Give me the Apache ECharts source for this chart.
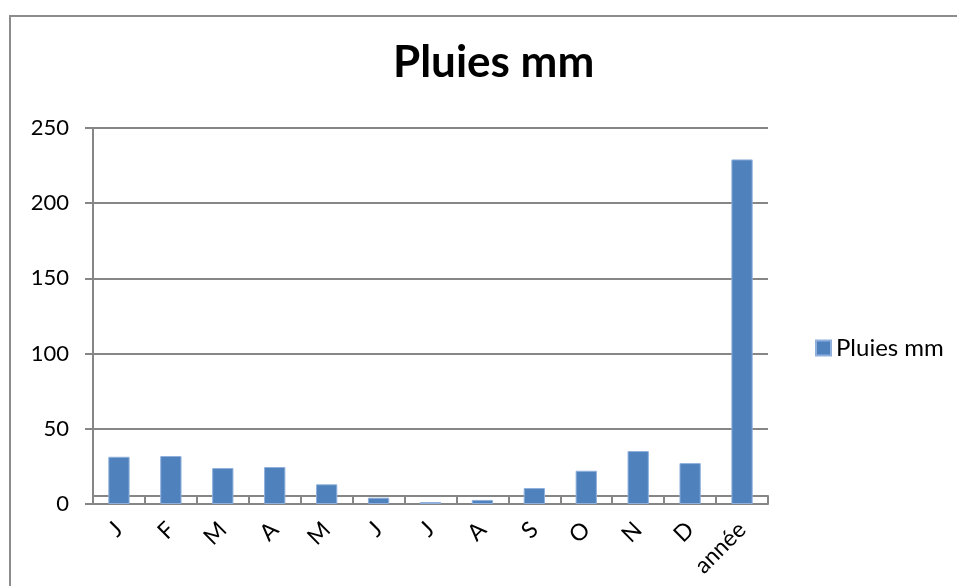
<!DOCTYPE html>
<html>
<head>
<meta charset="utf-8">
<script src="https://cdn.jsdelivr.net/npm/echarts@6/dist/echarts.min.js"></script>
<style>html,body{margin:0;padding:0;background:#fff}#c{width:957px;height:586px}</style>
</head>
<body>
<div id="c"></div>
<script>
const categories = ['J','F','M','A','M','J','J','A','S','O','N','D','année'];
const pluies = [31.4, 31.9, 23.9, 24.6, 13.1, 4.2, 1.3, 2.7, 10.6, 22.1, 35.2, 27.2, 229.1];
const yTicks = [0, 50, 100, 150, 200, 250];
const seriesName = 'Pluies mm';
const titleText = 'Pluies mm';

const chart = echarts.init(document.getElementById('c'), null, {renderer: 'canvas'});
const FONT = 'Lato, "Open Sans", sans-serif';
const GRAY = '#868686';
chart.setOption({
  animation: false,
  backgroundColor: '#fff',
  graphic: [{
    type: 'polyline',
    shape: {points: [[10, 586], [10, 16], [957, 16]]},
    style: {stroke: '#8c8c8c', lineWidth: 2, fill: null},
    silent: true
  }],
  title: {
    text: titleText,
    left: 388,
    top: 36,
    textStyle: {fontFamily: FONT, fontWeight: 'bold', fontSize: 44, color: '#000'}
  },
  legend: {
    data: [seriesName],
    left: 810,
    top: 331,
    icon: 'rect',
    itemWidth: 15,
    itemHeight: 15,
    itemGap: 6,
    textStyle: {fontFamily: FONT, fontSize: 24, color: '#000'}
  },
  grid: {left: 93, right: 189, top: 128, bottom: 82, containLabel: false},
  xAxis: [{
    type: 'category',
    data: categories,
    position: 'bottom',
    axisLine: {show: true, lineStyle: {color: GRAY, width: 2}},
    axisTick: {show: true, inside: true, length: 8, lineStyle: {color: GRAY, width: 2}},
    axisLabel: {rotate: 45, fontFamily: FONT, fontSize: 23, color: '#000', margin: 22},
    splitLine: {show: false}
  }, {
    type: 'category',
    data: categories,
    position: 'bottom',
    offset: -8,
    axisLine: {show: true, lineStyle: {color: GRAY, width: 2}},
    axisTick: {show: false},
    axisLabel: {show: false},
    splitLine: {show: false}
  }],
  yAxis: {
    type: 'value',
    min: yTicks[0],
    max: yTicks[yTicks.length - 1],
    interval: yTicks[1] - yTicks[0],
    axisLine: {show: true, lineStyle: {color: GRAY, width: 2}},
    axisTick: {show: true, length: 8, lineStyle: {color: GRAY, width: 2}},
    axisLabel: {fontFamily: FONT, fontSize: 22, color: '#000', margin: 24},
    splitLine: {show: true, lineStyle: {color: GRAY, width: 2}}
  },
  series: [{
    name: seriesName,
    type: 'bar',
    data: pluies,
    xAxisIndex: 0,
    barWidth: '41%',
    itemStyle: {color: '#4F81BD', borderColor: '#8fb0dc', borderWidth: 1},
    z: 1
  }]
});
</script>
</body>
</html>
